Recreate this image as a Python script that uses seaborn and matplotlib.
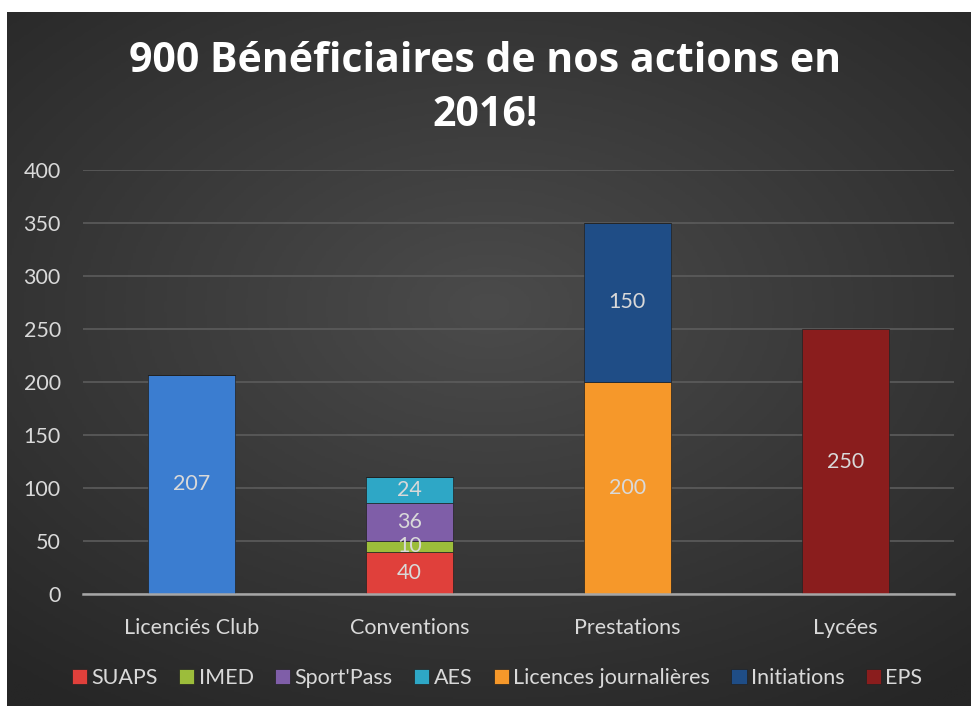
import numpy as np
import matplotlib
matplotlib.use("Agg")
import matplotlib.pyplot as plt
from matplotlib.patches import Patch
import seaborn as sns

# chart data
categories = ["Licenciés Club", "Conventions", "Prestations", "Lycées"]
series_names = ["Licenciés Club", "SUAPS", "IMED", "Sport'Pass", "AES",
                "Licences journalières", "Initiations", "EPS"]
licencies = [207, 0, 0, 0]
suaps = [0, 40, 0, 0]
imed = [0, 10, 0, 0]
sportpass = [0, 36, 0, 0]
aes = [0, 24, 0, 0]
licences_j = [0, 0, 200, 0]
initiations = [0, 0, 150, 0]
eps = [0, 0, 0, 250]
y_ticks = [0, 50, 100, 150, 200, 250, 300, 350, 400]

series_values = [licencies, suaps, imed, sportpass, aes, licences_j, initiations, eps]
colors = ["#3b7dd0", "#e0403b", "#9cbd3b", "#7f5ea8", "#2ea7c6",
          "#f6982a", "#1f4d86", "#8a1d1d"]
legend_skip = {"Licenciés Club"}

sns.set_theme(style="dark")
plt.rcParams["font.family"] = ["Lato", "DejaVu Sans"]
text_col = "#d9d9d9"
fs = 15.5

fig = plt.figure(figsize=(9.71, 7.06), dpi=100)
fig.patch.set_facecolor("white")

# dark radial-gradient background panel
bg = fig.add_axes([7 / 971, 0, 1 - 7 / 971, (706 - 12) / 706])
yy, xx = np.mgrid[-1:1:300j, -1:1:400j]
r = np.sqrt((xx * 0.9) ** 2 + ((yy + 0.15) * 1.0) ** 2)
bg.imshow(r, cmap=sns.blend_palette(["#4b4b4b", "#262626"], as_cmap=True),
          aspect="auto", extent=[0, 1, 0, 1], vmin=0, vmax=1.4)
bg.set_axis_off()

ax = fig.add_axes([83 / 971, (706 - 594) / 706, 871 / 971, 424 / 706])
ax.set_facecolor("none")

bottom = np.zeros(len(categories))
for name, vals, col in zip(series_names, series_values, colors):
    vals = np.array(vals, dtype=float)
    sns.barplot(x=categories, y=vals, bottom=bottom, color=col, width=0.4,
                saturation=1, edgecolor="#222222", linewidth=0.5, ax=ax)
    for i, v in enumerate(vals):
        if v > 0:
            ax.text(i, bottom[i] + v / 2, f"{int(v)}", ha="center", va="center",
                    color=text_col, fontsize=fs)
    bottom += vals

ax.set_ylim(0, 400)
ax.set_xlim(-0.5, len(categories) - 0.5)
ax.set_yticks(y_ticks)
ax.yaxis.grid(True, color="#5c5c5c", linewidth=1.2)
ax.xaxis.grid(False)
ax.set_axisbelow(True)
for s in ["top", "right", "left"]:
    ax.spines[s].set_visible(False)
ax.spines["bottom"].set_color("#a6a6a6")
ax.spines["bottom"].set_linewidth(1.8)
ax.tick_params(axis="both", length=0, labelsize=fs, colors=text_col)
ax.tick_params(axis="x", pad=17)
ax.tick_params(axis="y", pad=16)
ax.set_xlabel("")
ax.set_ylabel("")

fig.text(0.5, 0.874, "900 Bénéficiaires de nos actions en\n2016!", ha="center",
         va="center", fontsize=29.5, fontweight="bold", color="white",
         family=["Open Sans", "DejaVu Sans"], linespacing=1.42)

handles = [Patch(facecolor=c, edgecolor="#222222", linewidth=0.5)
           for n, c in zip(series_names, colors) if n not in legend_skip]
labels = [n for n in series_names if n not in legend_skip]
leg = fig.legend(handles, labels, loc="center", bbox_to_anchor=(0.512, 0.04),
                 ncol=len(labels), frameon=False, fontsize=fs,
                 handlelength=0.7, handleheight=0.7, handletextpad=0.2,
                 columnspacing=1.0)
for t in leg.get_texts():
    t.set_color(text_col)

fig.savefig("out.png", dpi=100, facecolor=fig.get_facecolor())
